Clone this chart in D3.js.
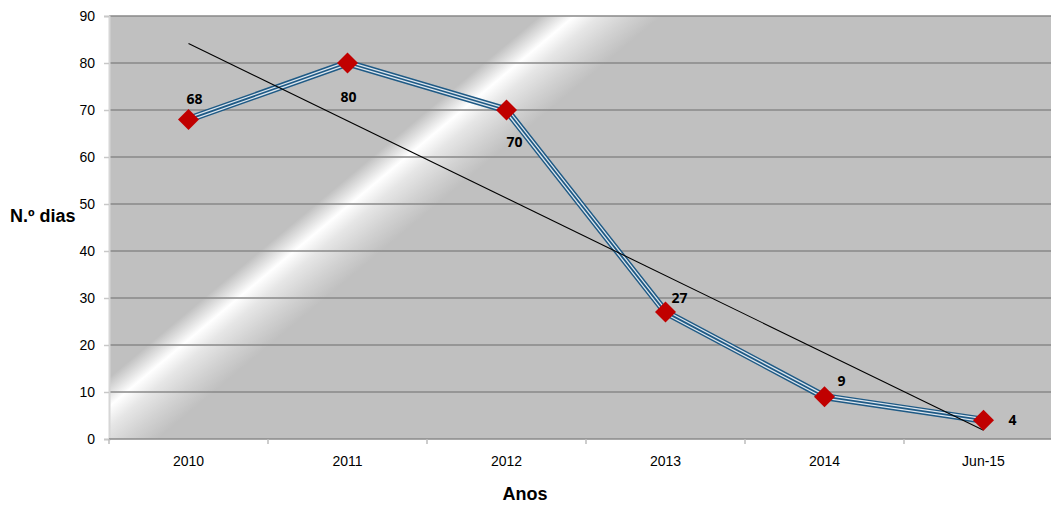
<!DOCTYPE html>
<html>
<head>
<meta charset="utf-8">
<script src="https://cdn.jsdelivr.net/npm/d3@7"></script>
<style>
  html, body { margin: 0; padding: 0; background: #ffffff; }
  svg { display: block; }
</style>
</head>
<body>
<svg id="chart" width="1051" height="505"></svg>
<script>
// Number of days per year
const categories = ["2010", "2011", "2012", "2013", "2014", "Jun-15"];
const values = [68, 80, 70, 27, 9, 4];
const yTicks = [0, 10, 20, 30, 40, 50, 60, 70, 80, 90];
// label placement relative to each marker
const labelOffsets = [[6, -15], [1, 39], [8, 37], [14, -9], [17, -11], [29, 5]];

const W = 1051, H = 505;
const plot = { left: 109, top: 16, right: 1063, bottom: 439 };

const svg = d3.select("#chart");

const x = d3.scalePoint().domain(categories).range([plot.left, plot.right]).padding(0.5);
const y = d3.scaleLinear().domain([0, 90]).range([plot.bottom, plot.top]);
const step = x.step();

// plot background: grey with a diagonal light streak
const defs = svg.append("defs");
const cx = 573, cy = 17;
const n = [0.643, 0.766];
const L = 200;
const grad = defs.append("linearGradient")
  .attr("id", "sheen")
  .attr("gradientUnits", "userSpaceOnUse")
  .attr("x1", cx - n[0] * L).attr("y1", cy - n[1] * L)
  .attr("x2", cx + n[0] * L).attr("y2", cy + n[1] * L);
[
  [0, "#c0c0c0"],
  [0.445, "#c0c0c0"],
  [0.475, "#e2e2e2"],
  [0.5, "#ffffff"],
  [0.54, "#e6e6e6"],
  [0.59, "#d2d2d2"],
  [0.64, "#c0c0c0"],
  [1, "#c0c0c0"]
].forEach(([o, c]) => grad.append("stop").attr("offset", o).attr("stop-color", c));

svg.append("rect")
  .attr("x", plot.left).attr("y", plot.top)
  .attr("width", plot.right - plot.left).attr("height", plot.bottom - plot.top)
  .attr("fill", "url(#sheen)");

// horizontal gridlines
svg.append("g").selectAll("line").data(yTicks.filter(d => d > 0)).join("line")
  .attr("x1", plot.left).attr("x2", plot.right)
  .attr("y1", d => y(d)).attr("y2", d => y(d))
  .attr("stroke", "#888888").attr("stroke-width", 1.3);

// y axis
const yAxis = svg.append("g").attr("transform", `translate(${plot.left},0)`)
  .call(d3.axisLeft(y).tickValues(yTicks).tickSize(5).tickPadding(9));
yAxis.select(".domain").attr("stroke", "#d6d6d6").attr("stroke-width", 2);
yAxis.selectAll(".tick line").attr("stroke", "#c8c8c8").attr("stroke-width", 1.5);
yAxis.selectAll(".tick text")
  .attr("font-family", "'Liberation Sans', Arial, sans-serif")
  .attr("font-size", 14).attr("fill", "#000");

// x axis with ticks between categories
const boundaries = d3.range(categories.length + 1).map(i => plot.left + i * step);
const xAxis = svg.append("g").attr("transform", `translate(0,${plot.bottom})`);
xAxis.append("line")
  .attr("x1", plot.left).attr("x2", plot.right)
  .attr("stroke", "#8a8a8a").attr("stroke-width", 1.5);
xAxis.selectAll("line.tk").data(boundaries).join("line").attr("class", "tk")
  .attr("x1", d => d).attr("x2", d => d).attr("y1", 0).attr("y2", 5)
  .attr("stroke", "#bdbdbd").attr("stroke-width", 1.5);
xAxis.selectAll("text").data(categories).join("text")
  .attr("x", d => x(d)).attr("y", 27)
  .attr("text-anchor", "middle")
  .attr("font-family", "'Liberation Sans', Arial, sans-serif")
  .attr("font-size", 14).attr("fill", "#000")
  .text(d => d);

// axis titles
svg.append("text")
  .attr("x", 10).attr("y", 222)
  .attr("font-family", "'Liberation Sans', Arial, sans-serif")
  .attr("font-weight", "bold").attr("font-size", 18).attr("fill", "#000")
  .text("N.º dias");
svg.append("text")
  .attr("x", 525).attr("y", 500)
  .attr("text-anchor", "middle")
  .attr("font-family", "'Liberation Sans', Arial, sans-serif")
  .attr("font-weight", "bold").attr("font-size", 18).attr("fill", "#000")
  .text("Anos");

// series: triple-stroke line
const pts = categories.map((c, i) => [x(c), y(values[i])]);
const line = d3.line();
[[7.2, "#1f5a85"], [4.3, "#dde6ee"], [1.8, "#1f5a85"]].forEach(([w, c]) => {
  svg.append("path").attr("d", line(pts))
    .attr("fill", "none").attr("stroke", c).attr("stroke-width", w)
    .attr("stroke-linejoin", "round");
});

// linear trendline (least squares over category index)
const idx = values.map((v, i) => i + 1);
const mx = d3.mean(idx), my = d3.mean(values);
const slope = d3.sum(idx.map((t, i) => (t - mx) * (values[i] - my))) / d3.sum(idx.map(t => (t - mx) ** 2));
const icpt = my - slope * mx;
svg.append("line")
  .attr("x1", x(categories[0])).attr("y1", y(icpt + slope * 1))
  .attr("x2", x(categories[categories.length - 1])).attr("y2", y(icpt + slope * categories.length))
  .attr("stroke", "#000").attr("stroke-width", 1.1);

// diamond markers
svg.append("g").selectAll("path").data(pts).join("path")
  .attr("d", d3.symbol(d3.symbolSquare, 220)())
  .attr("transform", d => `translate(${d[0]},${d[1]}) rotate(45)`)
  .attr("fill", "#c00000");

// value labels
svg.append("g").selectAll("text").data(values).join("text")
  .attr("x", (d, i) => pts[i][0] + labelOffsets[i][0])
  .attr("y", (d, i) => pts[i][1] + labelOffsets[i][1])
  .attr("text-anchor", "middle")
  .attr("font-family", "'Open Sans', sans-serif")
  .attr("font-weight", "bold").attr("font-size", 14).attr("fill", "#000")
  .text(d => d);
</script>
</body>
</html>
